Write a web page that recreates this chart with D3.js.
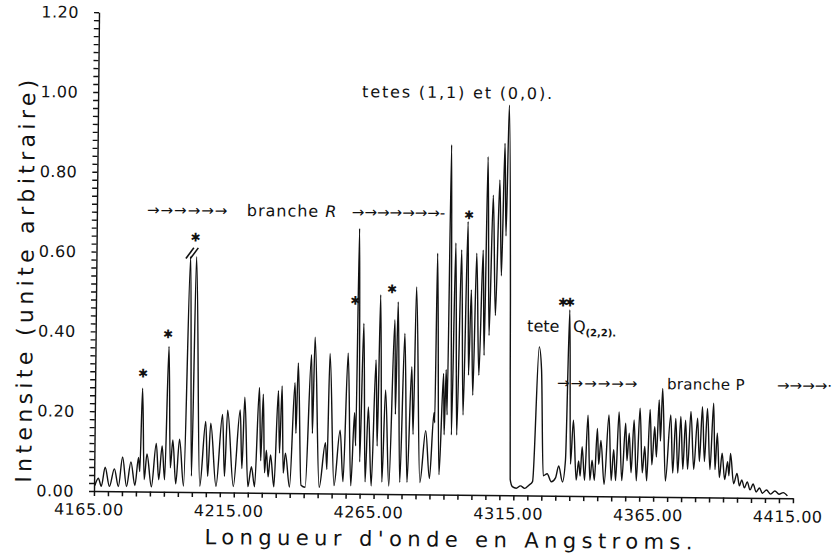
<!DOCTYPE html>
<html><head><meta charset="utf-8">
<script src="https://cdn.jsdelivr.net/npm/d3@7"></script>
<style>body{margin:0;background:#fff}svg{display:block}</style></head>
<body><svg id="c" width="834" height="559"></svg>
<script>
// Spectrum vertices: [wavelength (Å), intensity]
const spectrum = [
[4165.3,0.014],[4166.5,0.032],[4167.6,0.012],[4168.9,0.060],[4170.5,0.012],[4172.2,0.056],[4173.7,0.012],[4175.1,0.086],[4176.6,0.012],[4178.1,0.074],[4179.6,0.015],[4180.8,0.085],[4181.3,0.05],[4182.0,0.259],[4182.9,0.03],[4183.8,0.094],[4185.5,0.012],[4187.1,0.121],[4188.1,0.03],[4189.2,0.115],[4190.2,0.03],[4191.3,0.364],[4192.2,0.06],[4193.0,0.130],[4194.2,0.02],[4195.4,0.132],[4197.0,0.015],[4198.7,0.59],[4199.8,0.04],[4200.8,0.59],[4202.8,0.015],[4204.7,0.177],[4205.6,0.04],[4206.5,0.173],[4208.6,0.015],[4210.7,0.195],[4211.6,0.04],[4212.5,0.206],[4214.8,0.015],[4217.0,0.207],[4217.8,0.06],[4218.6,0.239],[4220.0,0.015],[4221.2,0.065],[4222.4,0.015],[4223.8,0.264],[4224.5,0.08],[4225.2,0.247],[4225.9,0.05],[4226.5,0.107],[4227.2,0.04],[4228.0,0.095],[4229.3,0.015],[4230.6,0.256],[4231.2,0.1],[4231.9,0.268],[4232.6,0.05],[4233.3,0.10],[4234.9,0.015],[4236.5,0.277],[4237.0,0.15],[4237.6,0.326],[4239.0,0.02],[4240.5,0.015],[4242.3,0.347],[4242.9,0.15],[4243.5,0.391],[4245.5,0.015],[4247.6,0.127],[4248.2,0.06],[4248.9,0.351],[4250.8,0.02],[4252.8,0.159],[4254.0,0.03],[4255.4,0.352],[4256.8,0.02],[4257.9,0.203],[4258.4,0.12],[4259.0,0.665],[4259.9,0.08],[4260.9,0.427],[4261.9,0.03],[4262.8,0.218],[4264.1,0.02],[4265.4,0.336],[4266.1,0.12],[4266.8,0.499],[4267.9,0.03],[4268.9,0.261],[4270.4,0.02],[4272.0,0.437],[4272.5,0.2],[4273.1,0.482],[4274.3,0.03],[4275.6,0.403],[4276.9,0.03],[4278.2,0.320],[4278.9,0.15],[4279.6,0.52],[4281.5,0.03],[4283.4,0.16],[4284.9,0.04],[4286.3,0.205],[4286.6,0.18],[4287.0,0.605],[4288.3,0.05],[4289.6,0.304],[4290.0,0.15],[4290.5,0.313],[4291.0,0.2],[4291.6,0.877],[4292.6,0.15],[4293.5,0.631],[4294.5,0.15],[4295.6,0.614],[4296.7,0.2],[4297.8,0.685],[4298.5,0.3],[4299.2,0.514],[4300.1,0.25],[4301.0,0.606],[4302.2,0.3],[4303.3,0.614],[4304.0,0.35],[4304.7,0.848],[4305.7,0.4],[4306.7,0.752],[4307.9,0.45],[4309.0,0.79],[4309.9,0.55],[4310.7,0.882],[4311.4,0.65],[4312.1,0.978],[4313.2,0.5],[4313.8,0.04],[4314.6,0.022],[4316.0,0.018],[4317.5,0.024],[4319.0,0.018],[4320.5,0.026],[4321.8,0.035],[4323.7,0.373],[4324.6,0.317],[4325.6,0.05],[4327.0,0.055],[4328.5,0.035],[4330.0,0.045],[4331.1,0.075],[4332.5,0.035],[4333.5,0.09],[4334.5,0.466],[4335.3,0.08],[4336.2,0.19],[4337.4,0.04],[4338.2,0.088],[4338.8,0.05],[4339.4,0.124],[4340.4,0.04],[4341.4,0.203],[4342.3,0.04],[4343.0,0.09],[4343.9,0.04],[4344.8,0.17],[4345.4,0.08],[4346.1,0.14],[4347.4,0.03],[4348.9,0.204],[4349.9,0.04],[4350.7,0.117],[4351.5,0.04],[4352.5,0.212],[4353.7,0.04],[4354.9,0.184],[4355.5,0.09],[4356.2,0.159],[4357.0,0.06],[4357.9,0.192],[4358.9,0.04],[4360.0,0.222],[4361.0,0.06],[4361.8,0.126],[4362.6,0.04],[4363.6,0.219],[4364.4,0.08],[4365.3,0.176],[4366.0,0.1],[4366.8,0.243],[4367.4,0.14],[4368.0,0.272],[4369.3,0.04],[4371.0,0.206],[4371.9,0.06],[4372.8,0.197],[4373.7,0.06],[4374.6,0.202],[4375.5,0.07],[4376.3,0.193],[4377.2,0.07],[4378.2,0.215],[4379.4,0.07],[4380.6,0.198],[4381.4,0.09],[4382.3,0.227],[4383.2,0.09],[4384.1,0.223],[4385.2,0.07],[4386.3,0.236],[4387.0,0.07],[4387.7,0.161],[4388.6,0.05],[4389.5,0.111],[4390.5,0.045],[4391.5,0.09],[4392.0,0.055],[4392.5,0.111],[4393.7,0.035],[4394.9,0.061],[4395.8,0.03],[4396.6,0.045],[4397.6,0.025],[4398.6,0.04],[4399.6,0.02],[4400.7,0.035],[4401.8,0.015],[4403.0,0.025],[4404.0,0.012],[4405.5,0.02],[4407.0,0.01],[4408.5,0.018],[4410.0,0.01],[4411.5,0.014],[4413.0,0.006]
];
const xTickLabels = [4165, 4215, 4265, 4315, 4365, 4415];
const yTickLabels = [0, 0.2, 0.4, 0.6, 0.8, 1.0, 1.2];
// asterisk marks [wavelength, intensity, text]
const starMarks = [[4181.6,0.296,"✱"],[4190.4,0.395,"✱"],[4199.8,0.638,"✱"],[4257.2,0.484,"✱"],[4270.3,0.514,"✱"],[4297.6,0.701,"✱"],[4332.8,0.485,"✱✱"]];

const svg = d3.select("#c");
const x = d3.scaleLinear().domain([4165, 4415]).range([94, 793]);
const y = d3.scaleLinear().domain([0, 1.2]).range([491, 12.2]);
const font = "'DejaVu Sans', sans-serif";
const ink = "#111";

const g = svg.append("g").attr("transform", "rotate(0.6,94,491)");

// X axis
const xAxis = d3.axisBottom(x).tickValues(d3.range(4165, 4416, 5)).tickSize(5).tickSizeOuter(0).tickFormat("");
const gx = g.append("g").attr("transform", `translate(0,${y(0)})`).call(xAxis);
gx.selectAll("path,line").attr("stroke", ink).attr("stroke-width", 1.5);

// Y axis
const yAxis = d3.axisLeft(y).tickValues(d3.range(0, 1.2001, 0.02)).tickSize(5).tickSizeOuter(0).tickFormat("");
const gy = g.append("g").attr("transform", `translate(${x(4165)},0)`).call(yAxis);
gy.selectAll("path,line").attr("stroke", ink).attr("stroke-width", 1.4);

// tick labels
g.selectAll(".xl").data(xTickLabels).join("text")
  .attr("x", d => x(d) - 5).attr("y", y(0) + 24)
  .attr("text-anchor", "middle").attr("font-family", font).attr("font-size", 16)
  .attr("letter-spacing", 0.5).attr("fill", ink).text(d => d.toFixed(2));
g.selectAll(".yl").data(yTickLabels).join("text")
  .attr("x", x(4165) - 20).attr("y", d => y(d)).attr("dy", "0.36em")
  .attr("text-anchor", "end").attr("font-family", font).attr("font-size", 16)
  .attr("letter-spacing", 0.5).attr("fill", ink).text(d => d.toFixed(2));

// axis titles
g.append("text").attr("x", 449).attr("y", 543).attr("text-anchor", "middle")
  .attr("font-family", font).attr("font-size", 21).attr("fill", ink)
  .attr("textLength", 488).attr("lengthAdjust", "spacing")
  .text("Longueur d'onde en Angstroms.");
g.append("text").attr("transform", "translate(31,282) rotate(-90)").attr("text-anchor", "middle")
  .attr("font-family", font).attr("font-size", 22).attr("fill", ink)
  .attr("textLength", 403).attr("lengthAdjust", "spacing")
  .text("Intensite (unite arbitraire)");

// spectrum
const line = d3.line().x(d => x(d[0])).y(d => y(d[1])).curve(d3.curveMonotoneX);
g.append("path").datum(spectrum).attr("d", line)
  .attr("fill", "none").attr("stroke", ink).attr("stroke-width", 1.4).attr("stroke-linejoin", "round");

// annotations
function label(txt, wl, inten, size, extra) {
  const t = g.append("text").attr("x", x(wl)).attr("y", y(inten))
    .attr("font-family", font).attr("font-size", size).attr("fill", ink).text(txt);
  if (extra) Object.entries(extra).forEach(([k, v]) => t.attr(k, v));
  return t;
}
label("tetes (1,1) et (0,0).", 4259.4, 0.994, 16, {"textLength": 190, "lengthAdjust": "spacing"});
label("→→→→→→", 4182.9, 0.693, 15, {"letter-spacing": 1});
const br = label("branche ", 4218.6, 0.693, 16, {"letter-spacing": 1});
br.append("tspan").attr("font-style", "italic").text("R");
label("→→→→→→→-", 4256.2, 0.693, 15, {"letter-spacing": 0});
label("tete", 4319.3, 0.411, 16, {});
const q = label("Q", 4335.7, 0.411, 16, {});
q.append("tspan").attr("font-size", 10).attr("font-weight", "bold").attr("dy", 4).text("(2,2).");
label("→→→→→→", 4330.2, 0.270, 15, {"letter-spacing": 1});
label("branche P", 4369.5, 0.270, 15, {"letter-spacing": 0.3});
label("→→→→·", 4408.9, 0.270, 15, {"letter-spacing": 0});

// asterisks (filled blobs)
g.selectAll(".st").data(starMarks).join("text")
  .attr("x", d => x(d[0])).attr("y", d => y(d[1])).attr("dy", "0.35em")
  .attr("text-anchor", "middle").attr("font-family", font)
  .attr("font-size", 12).attr("letter-spacing", -3).attr("fill", ink).text(d => d[2]);

// break marks "//" over the truncated doublet
[0, 1.6].forEach(off => {
  g.append("line")
    .attr("x1", x(4197.0 + off)).attr("y1", y(0.585))
    .attr("x2", x(4199.8 + off)).attr("y2", y(0.612))
    .attr("stroke", ink).attr("stroke-width", 1.6);
});
</script></body></html>
